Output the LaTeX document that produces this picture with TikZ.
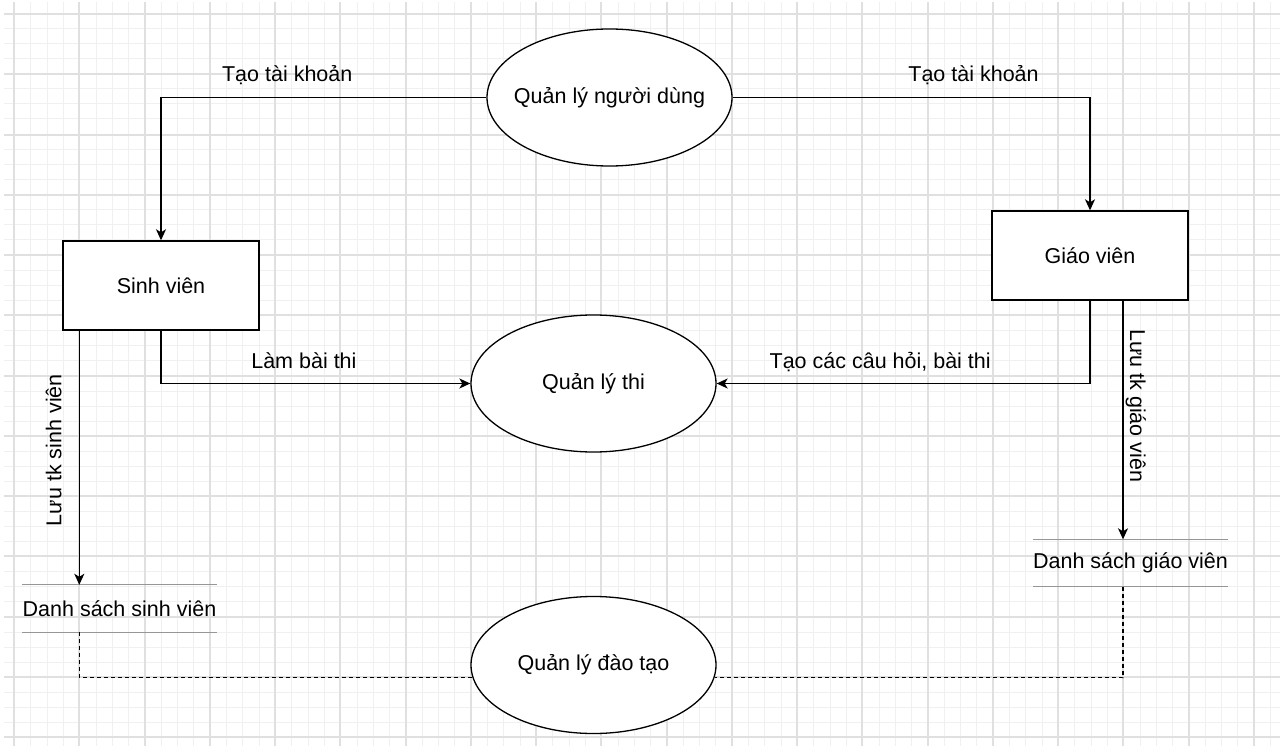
\documentclass[tikz,border=0pt]{standalone}
\usepackage{fontspec}
\setmainfont{Liberation Sans}
\usetikzlibrary{shapes.geometric,arrows.meta}

\definecolor{gridminc}{RGB}{240,240,240}
\definecolor{gridmajc}{RGB}{224,224,224}
\definecolor{storec}{RGB}{150,150,150}

% text inside the ovals takes no width, so the oval keeps its size
\newcommand{\ovaltext}[1]{\makebox[0pt]{#1}}

\tikzset{
  gridmin/.style={draw=gridminc, line width=1pt},
  gridmaj/.style={draw=gridmajc, line width=1.3pt},
  proc/.style={draw, ellipse, fill=white, line width=1.3pt,
    minimum width=245pt, minimum height=137pt, inner sep=0pt},
  actor/.style={draw, rectangle, fill=white, line width=1.4pt,
    minimum width=196pt, minimum height=89pt},
  store/.style={inner xsep=0pt, inner ysep=0pt, minimum height=47pt},
  storeline/.style={draw=storec, line width=1.2pt},
  flow/.style={-{Stealth[length=11pt,width=10pt,inset=3pt]}, line width=1.4pt},
  lbl/.style={anchor=base, yshift=15.5pt, inner sep=0pt},
  dataflow/.style={line width=1.2pt, dash pattern=on 4pt off 3pt},
}

\begin{document}
\begin{tikzpicture}[x=1pt, y=-1pt, font=\fontsize{21.5}{26}\selectfont]
  \useasboundingbox (0,0) rectangle (1280,746);
  \fill[white] (0,0) rectangle (1280,746);

  % grid
  \foreach \k in {0,...,77}
    \draw[gridmin] ({round(14+16.3125*\k)},2) -- ({round(14+16.3125*\k)},746);
  \foreach \k in {0,...,48}
    \draw[gridmin] (4,{round(14+15.0625*\k)}) -- (1280,{round(14+15.0625*\k)});
  \foreach \k in {0,...,19}
    \draw[gridmaj] ({round(14+65.25*\k)},2) -- ({round(14+65.25*\k)},746);
  \foreach \k in {0,...,12}
    \draw[gridmaj] (4,{round(14+60.25*\k)}) -- (1280,{round(14+60.25*\k)});

  % processes and actors
  \node[proc] (qlnd) at (609.5,97.5) {\ovaltext{Quản lý người dùng}};
  \node[proc] (qlt) at (593.5,383.5) {\ovaltext{Quản lý thi}};
  \node[proc] (qldt) at (593.5,665) {\ovaltext{Quản lý đào tạo}};

  \node[actor] (sv) at (161,285.5) {Sinh viên};
  \node[actor] (gv) at (1090,255.5) {Giáo viên};

  % data stores
  \node[store] (dssv) at (119.5,608.5) {Danh sách sinh viên};
  \draw[storeline] (dssv.north west) -- (dssv.north east)
    (dssv.south west) -- (dssv.south east);
  \node[store] (dsgv) at (1130.5,563) {Danh sách giáo viên};
  \draw[storeline] (dsgv.north west) -- (dsgv.north east)
    (dsgv.south west) -- (dsgv.south east);

  \coordinate (svx) at ([xshift=17pt]sv.south west);
  \coordinate (gvx) at ([xshift=33pt]gv.south);

  % flows
  \draw[flow] (qlnd.west) -| (sv.north) node[lbl, pos=.306] {Tạo tài khoản};
  \draw[flow] (qlnd.east) -| (gv.north) node[lbl, pos=.337] {Tạo tài khoản};

  \draw[flow] (sv.south) |- (qlt.west) node[lbl, pos=.731] {Làm bài thi};
  \draw[flow] (gv.south) |- (qlt.east) node[lbl, pos=.781] {Tạo các câu hỏi, bài thi};

  \draw[flow] (svx) -- (svx |- dssv.north)
    node[pos=.47, rotate=90, anchor=base, yshift=18pt, inner sep=0pt] {Lưu tk sinh viên};
  \draw[flow] (gvx) -- (gvx |- dsgv.north)
    node[pos=.44, rotate=-90, anchor=base, yshift=7pt, inner sep=0pt] {Lưu tk giáo viên};

  \draw[dataflow] (svx |- dssv.south) |- (qldt.186);
  \draw[dataflow] (gvx |- dsgv.south) |- (qldt.-6);
\end{tikzpicture}
\end{document}
